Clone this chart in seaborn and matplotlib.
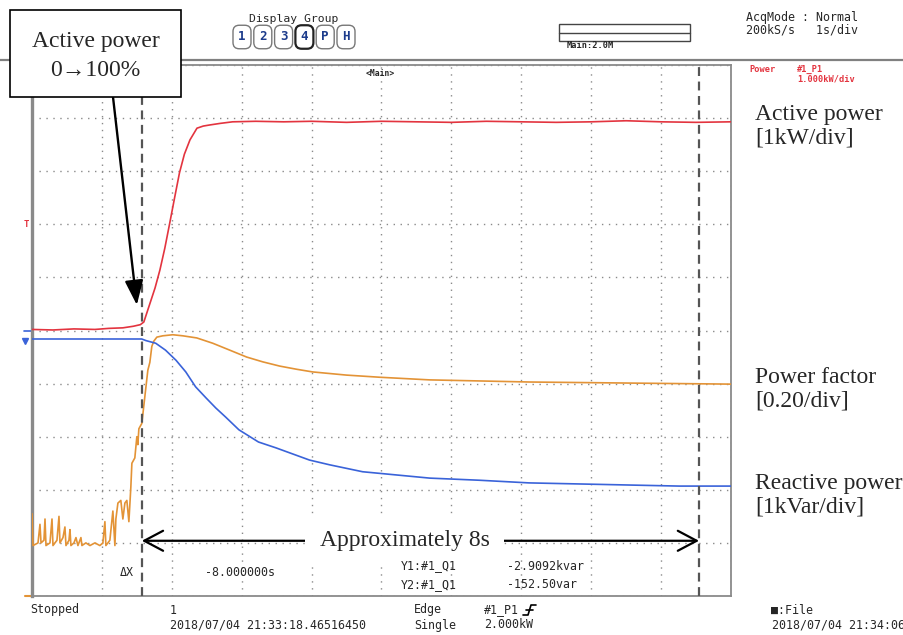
import matplotlib
matplotlib.use("Agg")
import matplotlib.pyplot as plt
import matplotlib.patches as patches
from matplotlib.lines import Line2D
import seaborn as sns
import pandas as pd

# ---- data (time in s) ----
# active power [kW], zero at centre of screen, 1 kW/div
red_t = [0.0, 0.3, 0.6, 0.9, 1.1, 1.3, 1.45, 1.55, 1.6, 1.69, 1.76, 1.83, 1.9,
         1.97, 2.04, 2.11, 2.18, 2.26, 2.36, 2.45, 2.54, 2.69, 2.87, 3.2, 3.6,
         4.0, 4.5, 5.0, 5.5, 6.0, 6.5, 7.0, 7.5, 8.0, 8.5, 9.0, 9.5, 10.0]
red_kw = [0.02, 0.01, 0.03, 0.02, 0.04, 0.05, 0.08, 0.11, 0.16, 0.52, 0.80, 1.14,
          1.55, 2.02, 2.50, 2.97, 3.32, 3.59, 3.81, 3.85, 3.87, 3.90, 3.93, 3.94,
          3.93, 3.94, 3.92, 3.94, 3.93, 3.92, 3.94, 3.93, 3.92, 3.93, 3.95, 3.93,
          3.92, 3.93]

# reactive power [kVar], zero at centre, 1 kVar/div
blue_t = [0.0, 0.5, 1.0, 1.57, 1.63, 1.77, 1.91, 2.06, 2.2, 2.34, 2.49, 2.63,
          2.77, 2.96, 3.24, 3.49, 3.97, 4.26, 4.73, 5.21, 5.69, 6.4, 7.11, 7.83,
          8.54, 9.26, 10.0]
blue_kvar = [-0.16, -0.16, -0.16, -0.16, -0.19, -0.24, -0.37, -0.56, -0.78, -1.06,
             -1.27, -1.46, -1.63, -1.87, -2.10, -2.21, -2.44, -2.53, -2.66, -2.72,
             -2.78, -2.82, -2.87, -2.89, -2.91, -2.93, -2.93]

# power factor, zero at bottom of screen, 0.20/div
pf_t = [0.0, 0.014, 0.086, 0.114, 0.129, 0.171, 0.186, 0.2, 0.257, 0.286, 0.3,
        0.357, 0.386, 0.4, 0.443, 0.471, 0.486, 0.529, 0.543, 0.557, 0.6, 0.629,
        0.657, 0.7, 0.714, 0.771, 0.829, 0.9, 0.971, 1.014, 1.043, 1.057, 1.086,
        1.114, 1.157, 1.186, 1.2, 1.229, 1.271, 1.3, 1.329, 1.357, 1.386, 1.414,
        1.429, 1.471, 1.5, 1.514, 1.529, 1.571, 1.614, 1.657, 1.686, 1.714, 1.743,
        1.786, 1.871, 2.014, 2.157, 2.357, 2.586, 2.829, 3.071, 3.3, 3.543, 3.786,
        4.014, 4.5, 4.971, 5.686, 7.114, 8.543, 10.0]
pf = [0.31, 0.19, 0.20, 0.27, 0.20, 0.21, 0.29, 0.19, 0.20, 0.29, 0.19, 0.21, 0.30,
      0.20, 0.22, 0.26, 0.19, 0.21, 0.25, 0.19, 0.20, 0.22, 0.19, 0.22, 0.19, 0.20,
      0.19, 0.20, 0.19, 0.20, 0.28, 0.19, 0.20, 0.21, 0.32, 0.19, 0.29, 0.35, 0.36,
      0.29, 0.35, 0.36, 0.28, 0.41, 0.50, 0.52, 0.60, 0.57, 0.63, 0.65, 0.75, 0.85,
      0.88, 0.94, 0.96, 0.975, 0.98, 0.984, 0.98, 0.972, 0.952, 0.926, 0.90, 0.882,
      0.866, 0.854, 0.844, 0.832, 0.824, 0.814, 0.806, 0.802, 0.798]

cursor_t = [1.571, 9.543]
trigger_kw = 2.0

W, H = 904, 635
RED, BLUE, ORANGE = "#e3343f", "#3a63d9", "#e39336"
MONO = "DejaVu Sans Mono"
SERIF = "Liberation Serif"


def fp(x, y):
    # figure pixel (top-left origin) -> figure fraction
    return x / W, 1 - y / H


sns.set_style("white")
fig = plt.figure(figsize=(W / 100, H / 100), dpi=100)
ax = fig.add_axes([32 / W, 1 - 596 / H, 699 / W, 531 / H])

df_red = pd.DataFrame({"t": red_t, "div": [v + 5 for v in red_kw]})
df_blue = pd.DataFrame({"t": blue_t, "div": [v + 5 for v in blue_kvar]})
df_pf = pd.DataFrame({"t": pf_t, "div": [v / 0.2 for v in pf]})

sns.lineplot(data=df_pf, x="t", y="div", ax=ax, color=ORANGE, lw=1.2,
             estimator=None, sort=False, zorder=3)
sns.lineplot(data=df_blue, x="t", y="div", ax=ax, color=BLUE, lw=1.2,
             estimator=None, sort=False, zorder=4)
sns.lineplot(data=df_red, x="t", y="div", ax=ax, color=RED, lw=1.2,
             estimator=None, sort=False, zorder=5)

ax.set_xlim(0, 10)
ax.set_ylim(0, 10)
ax.set_xticks(range(11))
ax.set_yticks(range(11))
ax.tick_params(length=0, labelbottom=False, labelleft=False)
ax.set_xlabel("")
ax.set_ylabel("")
ax.grid(True, linestyle=(0, (1, 4)), color="#8a8a8a", lw=1.0)
for s in ax.spines.values():
    s.set_color("#8a8a8a")
    s.set_linewidth(1.3)
ax.spines["left"].set_linewidth(2.4)

for c in cursor_t:
    ax.axvline(c, color="#555555", lw=1.6, ls=(0, (4, 2.5)), zorder=6)

# channel markers on the left edge
ymk = ax.get_yaxis_transform()
ax.text(-0.004, trigger_kw + 5, "T", transform=ymk, color=RED, fontsize=6.5,
        fontweight="bold", ha="right", va="center", family=MONO)
ax.plot([-0.012, 0], [5, 5], transform=ymk, color=BLUE, lw=1.2, clip_on=False)
ax.plot([-0.01], [4.8], transform=ymk, color=BLUE, marker="v", ms=4, clip_on=False)
ax.plot([-0.01, 0], [0, 0], transform=ymk, color=ORANGE, lw=1.5, clip_on=False)

# header separator line
fig.add_artist(Line2D([0, 1], [1 - 60 / H] * 2, transform=fig.transFigure,
                      color="#808080", lw=1.6))

# ---- scope header text ----
fig.text(*fp(294, 19), "Display Group", family=MONO, fontsize=8.2, ha="center",
         va="center")
for i, lab in enumerate(["1", "2", "3", "4", "P", "H"]):
    fig.text(*fp(242 + i * 20.8, 37), lab, family=MONO, fontsize=9,
             fontweight="bold", color="#1d3c8c", ha="center", va="center",
             bbox=dict(boxstyle="round,pad=0.42,rounding_size=0.5", fc="white",
                       ec="#222222" if lab == "4" else "#777777",
                       lw=1.6 if lab == "4" else 1.0))
fig.add_artist(patches.Rectangle(fp(559, 41), 131 / W, 17 / H,
                                 transform=fig.transFigure, fill=False,
                                 ec="#444444", lw=1.0))
fig.add_artist(Line2D([559 / W, 690 / W], [1 - 32.5 / H] * 2,
                      transform=fig.transFigure, color="#444444", lw=1.0))
fig.text(*fp(567, 46), "Main:2.0M", family=MONO, fontsize=6.2, fontweight="bold",
         va="center")
fig.text(*fp(746, 17), "AcqMode : Normal", family=MONO, fontsize=8.4, va="center")
fig.text(*fp(746, 30), "200kS/s   1s/div", family=MONO, fontsize=8.4, va="center")
fig.text(*fp(380, 73), "<Main>", family=MONO, fontsize=5.8, fontweight="bold",
         ha="center", va="center")
fig.text(*fp(749, 69), "Power", family=MONO, fontsize=6.2, fontweight="bold",
         color=RED, va="center")
fig.text(*fp(797, 69), "#1_P1", family=MONO, fontsize=6.2, fontweight="bold",
         color=RED, va="center")
fig.text(*fp(797, 79), "1.000kW/div", family=MONO, fontsize=6.2,
         fontweight="bold", color=RED, va="center")

# ---- cursor readout ----
fig.text(*fp(134, 573), "ΔX", family=MONO, fontsize=8.4, ha="right", va="center")
fig.text(*fp(205, 573), "-8.000000s", family=MONO, fontsize=8.4, va="center")
fig.text(*fp(401, 566), "Y1:#1_Q1", family=MONO, fontsize=8.4, va="center")
fig.text(*fp(507, 566), "-2.9092kvar", family=MONO, fontsize=8.4, va="center")
fig.text(*fp(401, 585), "Y2:#1_Q1", family=MONO, fontsize=8.4, va="center")
fig.text(*fp(507, 585), "-152.50var", family=MONO, fontsize=8.4, va="center")

# ---- status bar ----
fig.text(*fp(30, 610), "Stopped", family=MONO, fontsize=8.4, va="center")
fig.text(*fp(170, 610), "1", family=MONO, fontsize=8.4, va="center")
fig.text(*fp(170, 625), "2018/07/04 21:33:18.46516450", family=MONO, fontsize=8.4,
         va="center")
fig.text(*fp(414, 610), "Edge", family=MONO, fontsize=8.4, va="center")
fig.text(*fp(414, 625), "Single", family=MONO, fontsize=8.4, va="center")
fig.text(*fp(484, 610), "#1_P1", family=MONO, fontsize=8.4, va="center")
fig.add_artist(Line2D([523 / W, 528 / W, 531 / W, 536 / W],
                      [1 - 615 / H, 1 - 615 / H, 1 - 605 / H, 1 - 605 / H],
                      transform=fig.transFigure, color="black", lw=1.2))
fig.add_artist(Line2D([526 / W, 533 / W], [1 - 610 / H] * 2,
                      transform=fig.transFigure, color="black", lw=1.2))
fig.text(*fp(484, 625), "2.000kW", family=MONO, fontsize=8.4, va="center")
fig.text(*fp(771, 610), "■:File", family=MONO, fontsize=8.4, va="center")
fig.text(*fp(772, 625), "2018/07/04 21:34:06", family=MONO, fontsize=8.4,
         va="center")

# ---- annotations ----
fig.add_artist(patches.Rectangle(fp(10, 97), 171 / W, 87 / H,
                                 transform=fig.transFigure, fc="white",
                                 ec="black", lw=1.2, zorder=10))
fig.text(*fp(95.5, 56), "Active power\n0→100%", family=SERIF, fontsize=17,
         ha="center", va="center", linespacing=1.55, zorder=11)
ax.annotate("", xy=(1.5, 5.48), xycoords="data",
            xytext=(113, H - 97), textcoords="figure pixels",
            arrowprops=dict(arrowstyle="-|>,head_length=0.75,head_width=0.28",
                            mutation_scale=20, lw=1.7, color="black",
                            shrinkA=0, shrinkB=0), zorder=12)

ax.annotate("", xy=(cursor_t[0], 1.04), xytext=(cursor_t[1], 1.04),
            arrowprops=dict(arrowstyle="<->,head_length=0.68,head_width=0.36",
                            mutation_scale=20, lw=1.6, color="black",
                            shrinkA=0, shrinkB=0), zorder=7)
ax.text(5.33, 1.04, "Approximately 8s", family=SERIF, fontsize=17, ha="center",
        va="center", zorder=8,
        bbox=dict(boxstyle="square,pad=0.6", fc="white", ec="none"))

fig.text(*fp(755, 126), "Active power\n[1kW/div]", family=SERIF, fontsize=17,
         va="center", linespacing=1.15)
fig.text(*fp(755, 389), "Power factor\n[0.20/div]", family=SERIF, fontsize=17,
         va="center", linespacing=1.15)
fig.text(*fp(755, 495), "Reactive power\n[1kVar/div]", family=SERIF, fontsize=17,
         va="center", linespacing=1.15)

fig.savefig("out.png", dpi=100)
